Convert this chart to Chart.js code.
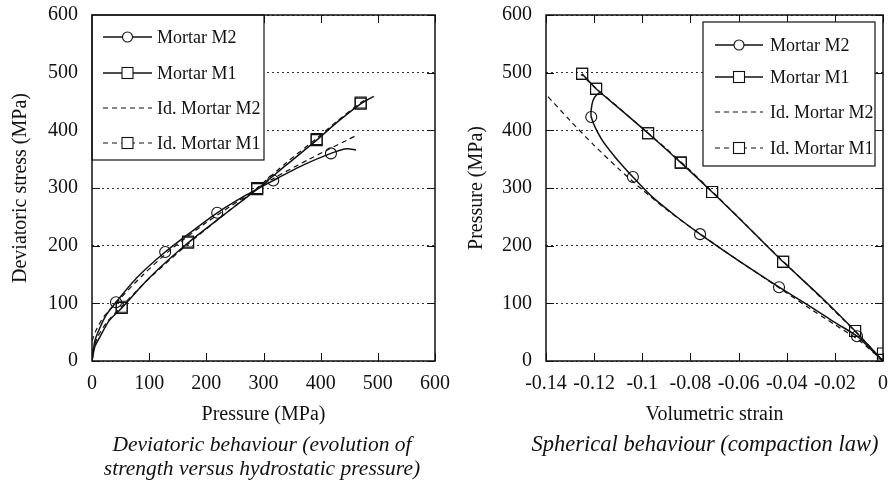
<!DOCTYPE html>
<html>
<head>
<meta charset="utf-8">
<script src="https://cdn.jsdelivr.net/npm/chart.js@4/dist/chart.umd.min.js"></script>
<style>
body { margin: 0; background: #fff; width: 891px; height: 486px; position: relative; overflow: hidden; font-family: "Liberation Serif", serif; }
canvas { position: absolute; top: -11px; }
#devCanvas { left: 0; }
#sphCanvas { left: 445px; }
.caption { position: absolute; font-style: italic; font-size: 21.5px; line-height: 24px; text-align: center; color: #111; white-space: nowrap; }
</style>
</head>
<body>
<canvas id="sphCanvas" width="454" height="443"></canvas>
<canvas id="devCanvas" width="461" height="443"></canvas>
<div class="caption" style="left:62px; width:400px; top:432px;">Deviatoric behaviour (evolution of<br>strength versus hydrostatic pressure)</div>
<div class="caption" style="left:505px; width:400px; top:432px; font-size:22.5px;">Spherical behaviour (compaction law)</div>
<script>
// legend
var legendLabels = ['Mortar M2', 'Mortar M1', 'Id. Mortar M2', 'Id. Mortar M1'];

// deviatoric behaviour: pressure (MPa) -> deviatoric stress (MPa)
var devM2P = [0, 5, 14, 25, 42, 80, 128, 175, 219, 270, 317, 370, 418, 445, 462];
var devM2Q = [0, 35, 58, 80, 102, 146, 189, 225, 257, 288, 313, 340, 360, 368, 366];
var devM2MarkP = [42, 128, 219, 317, 418];
var devM2MarkQ = [102, 189, 257, 313, 360];

var devM1P = [0, 5, 14, 30, 52, 100, 168, 230, 289, 340, 393, 430, 470, 493];
var devM1Q = [0, 25, 42, 70, 92, 144, 205, 253, 298, 340, 383, 415, 446, 459];
var devM1MarkP = [52, 168, 289, 393, 470];
var devM1MarkQ = [92, 205, 298, 383, 446];

var devIdM2P = [0, 8, 20, 45, 90, 140, 200, 260, 320, 380, 422, 446, 460];
var devIdM2Q = [35, 55, 76, 104, 150, 195, 240, 280, 318, 350, 371, 383, 390];

var devIdM1P = [0, 10, 25, 52, 100, 168, 230, 289, 340, 393, 430, 470, 482];
var devIdM1Q = [15, 42, 66, 95, 143, 203, 253, 300, 344, 386, 417, 448, 455];
var devIdM1MarkQ = [94, 207, 300, 385, 448];

// spherical behaviour: volumetric strain -> pressure (MPa)
var sphM2E = [0, -0.005, -0.0108, -0.02, -0.03, -0.0432, -0.055, -0.066, -0.076, -0.086, -0.096, -0.1039, -0.111, -0.117, -0.1212, -0.1209, -0.1197, -0.1176];
var sphM2P = [0, 20, 43, 67, 94, 128, 160, 191, 220, 251, 285, 319, 352, 385, 423, 445, 458, 466];
var sphM2MarkE = [-0.0108, -0.0432, -0.076, -0.1039, -0.1212];
var sphM2MarkP = [43, 128, 220, 319, 423];

var sphM1E = [0, -0.0116, -0.025, -0.0415, -0.056, -0.071, -0.084, -0.0976, -0.109, -0.1192, -0.125];
var sphM1P = [0, 52, 108, 172, 232, 293, 344, 395, 436, 472, 498];
var sphM1MarkE = [0, -0.0116, -0.0415, -0.071, -0.084, -0.0976, -0.1192, -0.125];
var sphM1MarkP = [13, 52, 172, 293, 344, 395, 472, 498];

var sphIdM2E = [0, -0.01, -0.02, -0.03, -0.04, -0.05, -0.06, -0.07, -0.08, -0.09, -0.1, -0.11, -0.12, -0.13, -0.14];
var sphIdM2P = [0, 36, 63, 90, 118, 146, 174, 203, 232, 263, 297, 334, 374, 417, 462];

var sphIdM1E = [0, -0.01, -0.02, -0.03, -0.04, -0.05, -0.06, -0.07, -0.08, -0.09, -0.1, -0.11, -0.12, -0.1255];
var sphIdM1P = [0, 45, 86, 127, 167, 207, 249, 290, 330, 368, 404, 440, 476, 497];
var sphIdM1MarkP = [2, 52, 172, 293, 344, 395, 472, 498];

var INK = '#111';
var DASH = [5, 4];
var SERIF = "'Liberation Serif', 'Times New Roman', serif";

Chart.defaults.font.family = SERIF;
Chart.defaults.color = INK;

function pts(xs, ys) {
  return xs.map(function (x, i) { return { x: x, y: ys[i] }; });
}

function lineDs(xs, ys, dash) {
  return {
    data: pts(xs, ys), showLine: true, borderColor: INK,
    borderWidth: dash ? 1.2 : 1.5, borderDash: dash || [],
    pointRadius: 0, tension: 0.25, fill: false
  };
}

function markDs(xs, ys, style, r) {
  return {
    data: pts(xs, ys), showLine: false, pointStyle: style, pointRadius: r,
    pointBorderColor: INK, pointBackgroundColor: 'rgba(0,0,0,0)', pointBorderWidth: 1.1
  };
}

var legendStyles = [
  { dash: null, mark: 'circle' },
  { dash: null, mark: 'rect' },
  { dash: DASH, mark: null },
  { dash: DASH, mark: 'rect' }
];

// frame, inward tick marks and the boxed legend
var framePlugin = {
  id: 'frame',
  afterDatasetsDraw: function (chart, args, opts) {
    var ctx = chart.ctx, a = chart.chartArea;
    var xs = chart.scales.x, ys = chart.scales.y;
    ctx.save();
    ctx.strokeStyle = INK;
    ctx.lineWidth = 1;
    ctx.beginPath();
    xs.ticks.forEach(function (t) {
      var px = Math.round(xs.getPixelForValue(t.value)) + 0.5;
      ctx.moveTo(px, a.bottom); ctx.lineTo(px, a.bottom - 8);
      ctx.moveTo(px, a.top); ctx.lineTo(px, a.top + 8);
    });
    ys.ticks.forEach(function (t) {
      var py = Math.round(ys.getPixelForValue(t.value)) + 0.5;
      ctx.moveTo(a.left, py); ctx.lineTo(a.left + 8, py);
      ctx.moveTo(a.right, py); ctx.lineTo(a.right - 8, py);
    });
    ctx.stroke();

    var L = opts.box;
    var bx = a.left + L.dx, by = a.top + L.dy;
    ctx.fillStyle = '#fff';
    ctx.fillRect(bx, by, L.w, L.h);
    ctx.lineWidth = 1.2;
    ctx.strokeRect(bx, by, L.w, L.h);
    ctx.font = '18px ' + SERIF;
    ctx.textBaseline = 'middle';
    legendLabels.forEach(function (lab, i) {
      var st = legendStyles[i];
      var y = by + L.rows[i];
      var x1 = bx + L.s1, x2 = bx + L.s2, xm = (x1 + x2) / 2;
      ctx.lineWidth = st.dash ? 1.2 : 1.5;
      ctx.setLineDash(st.dash || []);
      ctx.beginPath(); ctx.moveTo(x1, y); ctx.lineTo(x2, y); ctx.stroke();
      ctx.setLineDash([]);
      ctx.lineWidth = 1.1;
      if (st.mark === 'circle') {
        ctx.fillStyle = '#fff';
        ctx.beginPath(); ctx.arc(xm, y, 5, 0, Math.PI * 2); ctx.fill(); ctx.stroke();
      } else if (st.mark === 'rect') {
        ctx.fillStyle = '#fff';
        ctx.fillRect(xm - 5.5, y - 5.5, 11, 11);
        ctx.strokeRect(xm - 5.5, y - 5.5, 11, 11);
      }
      ctx.fillStyle = INK;
      ctx.fillText(lab, bx + L.tx, y + 1);
    });

    ctx.lineWidth = 1.5;
    ctx.strokeRect(a.left, a.top, a.right - a.left, a.bottom - a.top);
    ctx.restore();
  }
};

function axes(xOpts, yTitle, yWidth, yTitlePad) {
  return {
    x: Object.assign({
      type: 'linear',
      afterFit: function (s) { s.height = 71; },
      grid: { display: false, drawTicks: false },
      border: { display: false }
    }, xOpts),
    y: {
      type: 'linear', min: 0, max: 600,
      afterFit: function (s) { s.width = yWidth; },
      grid: { color: '#333', lineWidth: 1, drawTicks: false },
      border: { display: false, dash: [2, 3] },
      ticks: { stepSize: 100, font: { size: 20 }, padding: 14 },
      title: { display: true, text: yTitle, font: { size: 20 }, padding: { top: yTitlePad, bottom: 0 } }
    }
  };
}

function baseOptions(xOpts, yTitle, yWidth, yTitlePad, box) {
  return {
    responsive: false, animation: false, devicePixelRatio: 1,
    layout: { padding: 0 },
    scales: axes(xOpts, yTitle, yWidth, yTitlePad),
    plugins: {
      legend: { display: false }, tooltip: { enabled: false },
      frame: { box: box }
    }
  };
}

function draw() {
  var devX = {
    min: 0, max: 600,
    ticks: { stepSize: 100, font: { size: 20 }, padding: 11, maxRotation: 0, autoSkip: false },
    title: { display: true, text: 'Pressure (MPa)', font: { size: 20 }, padding: { top: 0, bottom: 5 } }
  };

  new Chart(document.getElementById('devCanvas'), {
    type: 'scatter',
    data: {
      datasets: [
        lineDs(devM2P, devM2Q),
        lineDs(devM1P, devM1Q),
        lineDs(devIdM2P, devIdM2Q, DASH),
        lineDs(devIdM1P, devIdM1Q, DASH),
        markDs(devM2MarkP, devM2MarkQ, 'circle', 5.5),
        markDs(devM1MarkP, devM1MarkQ, 'rect', 7.8),
        markDs(devM1MarkP, devIdM1MarkQ, 'rect', 7.8)
      ]
    },
    options: baseOptions(devX, 'Deviatoric stress (MPa)', 92, 9,
      { dx: 0, dy: 0, w: 172, h: 145, rows: [22, 58, 93, 128], s1: 11, s2: 60, tx: 65 }),
    plugins: [framePlugin]
  });

  var sphX = {
    min: -0.14, max: 0,
    ticks: {
      stepSize: 0.02, font: { size: 20 }, padding: 11, maxRotation: 0, autoSkip: false,
      callback: function (v) { return String(Number(v.toFixed(2))); }
    },
    title: { display: true, text: 'Volumetric strain', font: { size: 20 }, padding: { top: 0, bottom: 5 } }
  };

  new Chart(document.getElementById('sphCanvas'), {
    type: 'scatter',
    data: {
      datasets: [
        lineDs(sphM2E, sphM2P),
        lineDs(sphM1E, sphM1P),
        lineDs(sphIdM2E, sphIdM2P, DASH),
        lineDs(sphIdM1E, sphIdM1P, DASH),
        markDs(sphM2MarkE, sphM2MarkP, 'circle', 5.5),
        markDs(sphM1MarkE, sphM1MarkP, 'rect', 7.8),
        markDs(sphM1MarkE, sphIdM1MarkP, 'rect', 7.8)
      ]
    },
    options: baseOptions(sphX, 'Pressure (MPa)', 101, 20,
      { dx: 157, dy: 7, w: 172, h: 144, rows: [23, 55, 90, 126], s1: 12, s2: 60, tx: 67 }),
    plugins: [framePlugin]
  });
}

Promise.all([
  document.fonts.load("20px 'Liberation Serif'"),
  document.fonts.load("italic 20px 'Liberation Serif'")
]).then(draw, draw);
</script>
</body>
</html>
